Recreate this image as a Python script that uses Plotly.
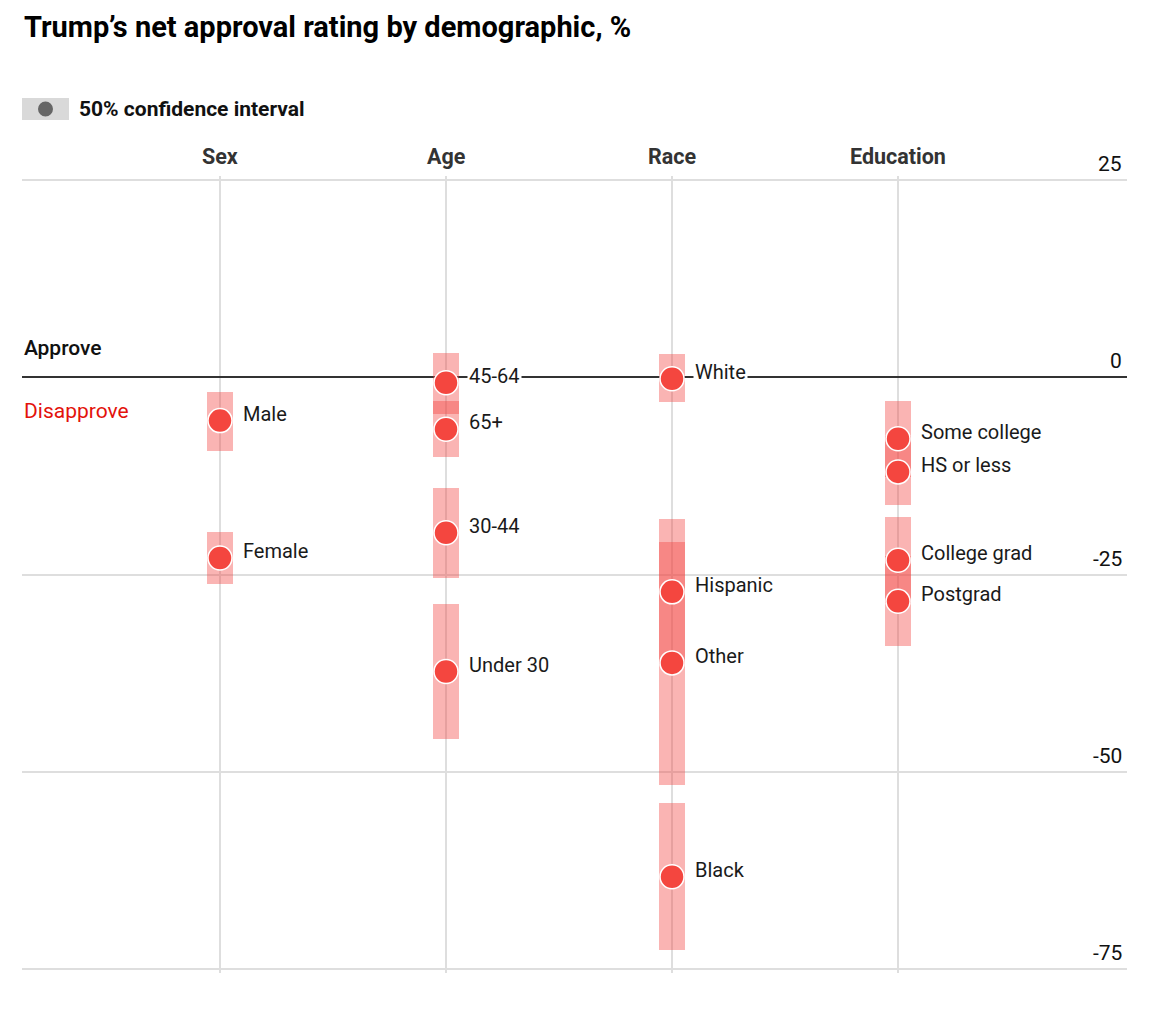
import plotly.graph_objects as go

# ---------------- data ----------------
groups = ["Sex", "Age", "Race", "Education"]

labels = ["Male", "Female",
          "45-64", "65+", "30-44", "Under 30",
          "White", "Hispanic", "Other", "Black",
          "Some college", "HS or less", "College grad", "Postgrad"]
label_group = ["Sex", "Sex",
               "Age", "Age", "Age", "Age",
               "Race", "Race", "Race", "Race",
               "Education", "Education", "Education", "Education"]
net_approval = [-5.5, -22.9,
                -0.7, -6.6, -19.7, -37.3,
                -0.2, -27.2, -36.2, -63.3,
                -7.8, -12.0, -23.2, -28.4]
ci_high = [-1.9, -19.6,
           3.1, -3.0, -14.1, -28.8,
           2.9, -18.0, -20.9, -54.0,
           -3.0, -7.5, -17.7, -22.6]
ci_low = [-9.3, -26.2,
          -4.6, -10.1, -25.4, -45.8,
          -3.1, -36.4, -51.7, -72.6,
          -12.6, -16.2, -28.6, -34.1]

y_ticks = [25, 0, -25, -50, -75]
y_tick_text = ["25", "0", "-25", "-50", "-75"]

title_text = "Trump\u2019s net approval rating by demographic, %"
legend_text = "50% confidence interval"

# ---------------- style ----------------
W, H = 1172, 1012
ML, MR, MT, MB = 22, 45, 176, 39
TOP_GAP = 4          # pixels between plot-area top and the 25 gridline
DOT = "#F4463F"
BAR = "rgba(242,68,64,0.40)"
GRID = "#dedede"
FONT = "Roboto"

xpos = [groups.index(g) for g in label_group]

fig = go.Figure()

# confidence interval bars
for i in range(len(labels)):
    fig.add_trace(go.Bar(
        x=[xpos[i]], base=[ci_low[i]], y=[ci_high[i] - ci_low[i]],
        width=0.115, marker=dict(color=BAR, line=dict(width=0)),
        showlegend=False, hoverinfo="skip"))

# dots
fig.add_trace(go.Scatter(
    x=xpos, y=net_approval, mode="markers",
    marker=dict(size=24, color=DOT, line=dict(color="white", width=1.5)),
    showlegend=False, text=labels, hovertemplate="%{text}: %{y}<extra></extra>"))

annotations = []
# point labels
for i, lab in enumerate(labels):
    near_zero = abs(net_approval[i]) < 3
    annotations.append(dict(
        x=xpos[i], y=net_approval[i], xref="x", yref="y",
        text=lab, showarrow=False, xanchor="left", yanchor="middle",
        xshift=21, yshift=7,
        bgcolor="white" if near_zero else "rgba(0,0,0,0)", borderpad=1,
        font=dict(family=FONT, size=20, color="#1a1a1a")))

# column headers
for j, g in enumerate(groups):
    annotations.append(dict(
        x=j, y=max(y_ticks), xref="x", yref="y", yanchor="bottom", xanchor="center",
        yshift=9, text="<b>%s</b>" % g, showarrow=False,
        font=dict(family=FONT, size=21.5, color="#333333")))

# y tick labels (right side, above gridlines)
for v, t in zip(y_ticks, y_tick_text):
    annotations.append(dict(
        x=1, y=v, xref="paper", yref="y", xanchor="right", yanchor="bottom",
        xshift=-3, yshift=2, text=t, showarrow=False,
        font=dict(family=FONT, size=21, color="#111111")))

# approve / disapprove
annotations.append(dict(x=0, y=0, xref="paper", yref="y", xanchor="left", yanchor="bottom",
                        yshift=15, text="Approve", showarrow=False,
                        font=dict(family="Roboto Medium, Roboto", size=21, color="#111111")))
annotations.append(dict(x=0, y=0, xref="paper", yref="y", xanchor="left", yanchor="top",
                        yshift=-20, text="Disapprove", showarrow=False,
                        font=dict(family=FONT, size=21, color="#E3120B")))

# title
annotations.append(dict(x=0, y=1, xref="paper", yref="paper", xanchor="left", yanchor="middle",
                        yshift=MT + TOP_GAP - 153, text="<b>%s</b>" % title_text, showarrow=False,
                        font=dict(family=FONT, size=29, color="#000000")))
# legend text
annotations.append(dict(x=0, y=1, xref="paper", yref="paper", xanchor="left", yanchor="middle",
                        xshift=55, yshift=MT + TOP_GAP - 109 - (MT + TOP_GAP - 180) * 0,
                        text="<b>%s</b>" % legend_text, showarrow=False,
                        font=dict(family=FONT, size=21, color="#111111")))

LEG_Y = 109 - MT  # legend center relative to plot top (negative = above)
shapes = [
    dict(type="rect", xref="paper", yref="paper", xsizemode="pixel", ysizemode="pixel",
         xanchor=0, yanchor=1, x0=0, x1=47, y0=-LEG_Y + 11, y1=-LEG_Y - 11,
         fillcolor="#d9d9d9", line=dict(width=0), layer="above"),
    dict(type="circle", xref="paper", yref="paper", xsizemode="pixel", ysizemode="pixel",
         xanchor=0, yanchor=1, x0=16, x1=31, y0=-LEG_Y + 7.5, y1=-LEG_Y - 7.5,
         fillcolor="#666666", line=dict(width=0), layer="above"),
]
# fix legend text to the same centre
annotations[-1]["yshift"] = -LEG_Y
annotations[-2]["yshift"] = MT - 27

fig.update_layout(
    width=W, height=H,
    margin=dict(l=ML, r=MR, t=MT, b=MB, pad=0),
    paper_bgcolor="white", plot_bgcolor="white",
    barmode="overlay", bargap=0,
    showlegend=False,
    xaxis=dict(range=[-0.876, 4.013], tickvals=list(range(len(groups))),
               showticklabels=False, showgrid=True, gridcolor=GRID, gridwidth=1.5,
               zeroline=False, showline=False, fixedrange=True),
    yaxis=dict(range=[-75.5, 25.5], tickvals=y_ticks, showticklabels=False,
               showgrid=True, gridcolor=GRID, gridwidth=1.5,
               zeroline=True, zerolinecolor="#333333", zerolinewidth=2,
               showline=False, fixedrange=True),
    annotations=annotations,
    shapes=shapes,
    font=dict(family=FONT),
)

fig.write_html("out.html", include_plotlyjs=True, config={"displayModeBar": False},
               post_script="document.body.style.margin='0';document.body.style.overflow='hidden';")
